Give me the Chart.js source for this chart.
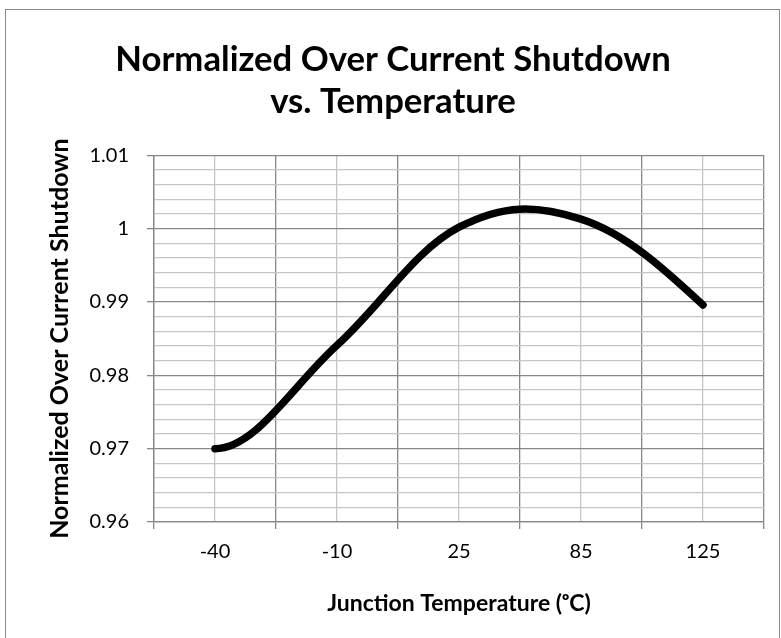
<!DOCTYPE html>
<html>
<head>
<meta charset="utf-8">
<title>Normalized Over Current Shutdown vs. Temperature</title>
<script src="https://cdn.jsdelivr.net/npm/chart.js@4.4.1/dist/chart.umd.min.js"></script>
<style>
  html, body { margin: 0; padding: 0; background: #fff; }
  #wrap { width: 781px; height: 638px; }
</style>
</head>
<body>
<div id="wrap"><canvas id="ocsChart" width="781" height="638"></canvas></div>
<script>
// junction temperature (deg C) categories
const temps = ["-40", "-10", "25", "85", "125"];
// normalized over current shutdown
const ocsNorm = [0.970, 0.9841, 1.0002, 1.0013, 0.9896];
// y axis: labelled ticks and the minor step between them
const yMajorTicks = [0.96, 0.97, 0.98, 0.99, 1, 1.01];
const yMinorStep = 0.002;

const MAJOR = "#878787";
const MINOR = "#c6c6c6";
const FONT = "Lato, 'Open Sans', sans-serif";

function isMajor(v) {
  return yMajorTicks.some(m => Math.abs(m - v) < 1e-6);
}

// ================= OUTER FRAME =================
const framePlugin = {
  id: "frame",
  beforeDraw(chart) {
    const c = chart.ctx;
    c.save();
    c.fillStyle = "#fff";
    c.fillRect(0, 0, chart.width, chart.height);
    c.strokeStyle = "#8a8a8a";
    c.lineWidth = 1;
    c.strokeRect(5.5, 9.5, 774, 640);
    c.restore();
  }
};

// ================= SPREADSHEET STYLE SMOOTHING =================
// tangent at each point parallel to the chord of its neighbours,
// handles a fixed share of the x step; flat start, natural end
const smoothPlugin = {
  id: "smooth",
  beforeDatasetDraw(chart, args) {
    const meta = args.meta;
    meta.dataset.updateControlPoints(chart.chartArea, meta.iScale.axis);
    const p = meta.data;
    const n = p.length;
    const k = 1.1;
    for (let i = 1; i < n - 1; i++) {
      const slope = (p[i + 1].y - p[i - 1].y) / (p[i + 1].x - p[i - 1].x);
      const dPrev = (p[i].x - p[i - 1].x) * k / 3;
      const dNext = (p[i + 1].x - p[i].x) * k / 3;
      p[i].cp1x = p[i].x - dPrev;
      p[i].cp1y = p[i].y - slope * dPrev;
      p[i].cp2x = p[i].x + dNext;
      p[i].cp2y = p[i].y + slope * dNext;
    }
    p[0].cp2x = p[0].x + (p[1].x - p[0].x) / 3;
    p[0].cp2y = p[0].y;
    p[n - 1].cp1x = (p[n - 1].x + p[n - 2].cp2x) / 2;
    p[n - 1].cp1y = (p[n - 1].y + p[n - 2].cp2y) / 2;
  }
};

const ctx = document.getElementById("ocsChart");

new Chart(ctx, {
  type: "line",
  data: {
    labels: temps,
    datasets: [{
      data: ocsNorm,
      borderColor: "#000",
      borderWidth: 7.5,
      borderCapStyle: "round",
      borderJoinStyle: "round",
      pointRadius: 0,
      tension: 0.4,
      fill: false
    }]
  },
  options: {
    responsive: false,
    animation: false,
    layout: { padding: { left: 22, right: 17, top: 0, bottom: 0 } },
    plugins: {
      legend: { display: false },
      tooltip: { enabled: false },
      title: {
        display: true,
        text: ["Normalized Over Current Shutdown", "vs. Temperature"],
        color: "#000",
        font: { family: FONT, size: 34.7, weight: "bold", lineHeight: 1.215 },
        padding: { top: 39, bottom: 32 }
      }
    },
    scales: {
      x: {
        type: "category",
        offset: true,
        grid: {
          offset: true,
          color: MAJOR,
          lineWidth: 1.3,
          drawTicks: true,
          tickLength: 7,
          tickColor: MAJOR
        },
        border: { display: true, color: MAJOR, width: 1.3 },
        ticks: {
          color: "#000",
          font: { family: FONT, size: 20 },
          padding: 11,
          maxRotation: 0
        },
        title: {
          display: true,
          text: "Junction Temperature (ᵒC)",
          color: "#000",
          font: { family: FONT, size: 23, weight: "bold", lineHeight: 1.2 },
          padding: { top: 0, bottom: 21 }
        },
        afterFit(scale) { scale.height = 116; }
      },
      // light lines through the category centres
      xMinor: {
        type: "category",
        position: "bottom",
        offset: true,
        grid: { offset: false, color: MINOR, lineWidth: 1.3, drawTicks: false },
        border: { display: false },
        ticks: { display: false },
        afterFit(scale) { scale.height = 0; }
      },
      y: {
        min: 0.96,
        max: 1.01,
        ticks: {
          stepSize: yMinorStep,
          autoSkip: false,
          color: "#000",
          font: { family: FONT, size: 20 },
          padding: 18,
          callback: v => isMajor(v) ? String(Number(v.toFixed(2))) : ""
        },
        grid: {
          color: c => isMajor(c.tick.value) ? MAJOR : MINOR,
          lineWidth: 1.3,
          tickLength: 7,
          tickColor: c => isMajor(c.tick.value) ? MAJOR : "rgba(0,0,0,0)"
        },
        border: { display: true, color: MAJOR, width: 1.3 },
        title: {
          display: true,
          text: "Normalized Over Current Shutdown",
          color: "#000",
          font: { family: FONT, size: 25, weight: "bold", lineHeight: 1.2 },
          padding: { top: 23, bottom: 0 }
        },
        afterFit(scale) { scale.width = 132; }
      }
    }
  },
  plugins: [framePlugin, smoothPlugin]
});
</script>
</body>
</html>
